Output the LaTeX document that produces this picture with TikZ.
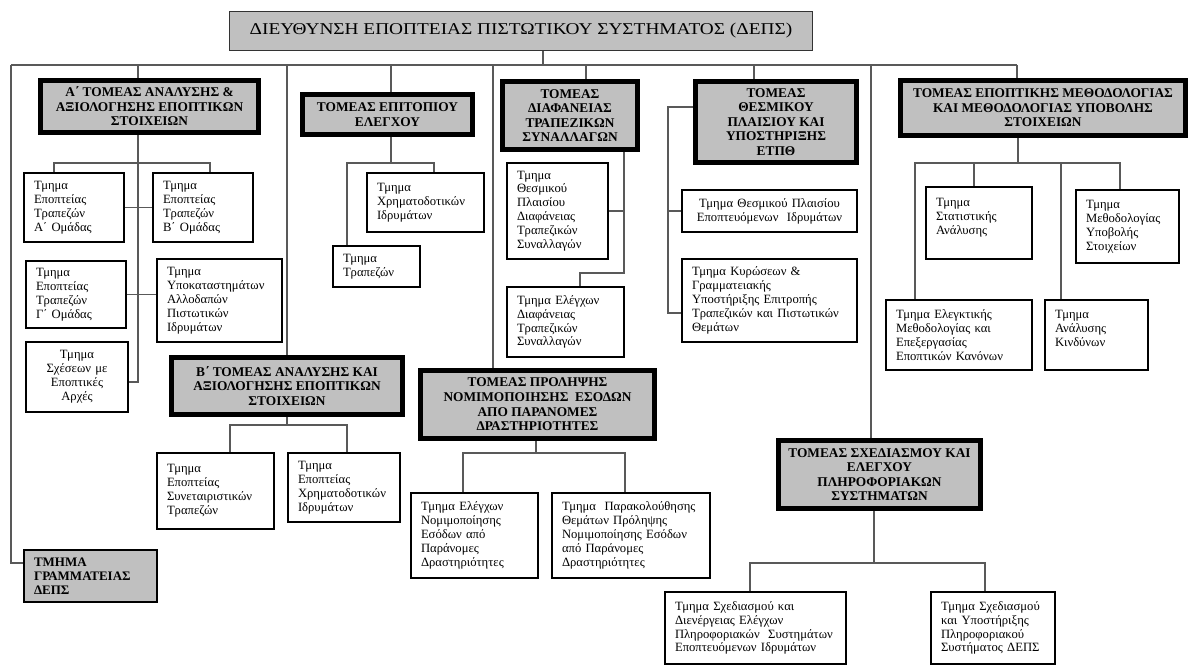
\documentclass[tikz,border=0pt]{standalone}
\usepackage{fontspec}
\setmainfont{Liberation Serif}
\newfontfamily\titlefont{Liberation Serif}[FakeStretch=1.17]
\usepackage{tikz}
\usetikzlibrary{calc}

\definecolor{boxgray}{HTML}{C0C0C0}

\tikzset{
  tomeas/.style={draw=black, line width=2.9pt, fill=boxgray, align=center, inner sep=1pt,
    font=\fontsize{7.6}{8.3}\selectfont\bfseries},
  tmhma/.style={draw=black, line width=0.7pt, fill=white, align=left, inner xsep=0.2cm, inner ysep=1pt,
    font=\fontsize{7.2}{7.9}\selectfont},
  conn/.style={draw=black!65, line width=0.8pt},
}

\begin{document}
\begin{tikzpicture}[x=0.02cm,y=-0.02cm]
\useasboundingbox (0,0) rectangle (1189,668);

\node[draw=black!80, line width=0.8pt, fill=boxgray, minimum width=11.66cm, minimum height=0.78cm,
  font=\titlefont\fontsize{9.4}{10}\selectfont] (title) at (521,31) {ΔΙΕΥΘΥΝΣΗ ΕΠΟΠΤΕΙΑΣ ΠΙΣΤΩΤΙΚΟΥ ΣΥΣΤΗΜΑΤΟΣ (ΔΕΠΣ)};

% tomeis
\node[tomeas, minimum width=4.36cm, minimum height=1.04cm] (A) at (149.5,106.5) {Α΄ ΤΟΜΕΑΣ ΑΝΑΛΥΣΗΣ \&\\ ΑΞΙΟΛΟΓΗΣΗΣ ΕΠΟΠΤΙΚΩΝ\\ ΣΤΟΙΧΕΙΩΝ};
\node[tomeas, minimum width=3.40cm, minimum height=0.80cm] (E) at (387.5,114.5) {ΤΟΜΕΑΣ ΕΠΙΤΟΠΙΟΥ\\ ΕΛΕΓΧΟΥ};
\node[tomeas, minimum width=2.70cm, minimum height=1.36cm] (D) at (570,115.5) {ΤΟΜΕΑΣ\\ ΔΙΑΦΑΝΕΙΑΣ\\ ΤΡΑΠΕΖΙΚΩΝ\\ ΣΥΝΑΛΛΑΓΩΝ};
\node[tomeas, minimum width=3.22cm, minimum height=1.62cm] (T) at (776,122) {ΤΟΜΕΑΣ\\ ΘΕΣΜΙΚΟΥ\\ ΠΛΑΙΣΙΟΥ ΚΑΙ\\ ΥΠΟΣΤΗΡΙΞΗΣ\\ ΕΤΠΘ};
\node[tomeas, minimum width=5.70cm, minimum height=1.10cm] (M) at (1043,108) {ΤΟΜΕΑΣ ΕΠΟΠΤΙΚΗΣ ΜΕΘΟΔΟΛΟΓΙΑΣ\\ ΚΑΙ ΜΕΘΟΔΟΛΟΓΙΑΣ ΥΠΟΒΟΛΗΣ\\ ΣΤΟΙΧΕΙΩΝ};
\node[tomeas, minimum width=4.62cm, minimum height=1.14cm] (B) at (287,386) {Β΄ ΤΟΜΕΑΣ ΑΝΑΛΥΣΗΣ ΚΑΙ\\ ΑΞΙΟΛΟΓΗΣΗΣ ΕΠΟΠΤΙΚΩΝ\\ ΣΤΟΙΧΕΙΩΝ};
\node[tomeas, minimum width=4.68cm, minimum height=1.36cm] (P) at (537.5,404.5) {ΤΟΜΕΑΣ ΠΡΟΛΗΨΗΣ\\ ΝΟΜΙΜΟΠΟΙΗΣΗΣ \ ΕΣΟΔΩΝ\\ ΑΠΟ ΠΑΡΑΝΟΜΕΣ\\ ΔΡΑΣΤΗΡΙΟΤΗΤΕΣ};
\node[tomeas, minimum width=4.04cm, minimum height=1.36cm] (S) at (879.5,474.5) {ΤΟΜΕΑΣ ΣΧΕΔΙΑΣΜΟΥ ΚΑΙ\\ ΕΛΕΓΧΟΥ\\ ΠΛΗΡΟΦΟΡΙΑΚΩΝ\\ ΣΥΣΤΗΜΑΤΩΝ};

% tmhmata
\node[tmhma, text width=1.60cm, minimum height=1.38cm] (a1) at (74,207.5) {Τμημα\\ Εποπτείας\\ Τραπεζών\\ Α΄ Ομάδας};
\node[tmhma, text width=1.60cm, minimum height=1.38cm] (a2) at (203,207.5) {Τμημα\\ Εποπτείας\\ Τραπεζών\\ Β΄ Ομάδας};
\node[tmhma, text width=1.60cm, minimum height=1.34cm] (a3) at (76,294.5) {Τμημα\\ Εποπτείας\\ Τραπεζών\\ Γ΄ Ομάδας};
\node[tmhma, text width=2.10cm, minimum height=1.66cm] (a4) at (219.5,300.5) {Τμημα\\ Υποκαταστημάτων\\ Αλλοδαπών\\ Πιστωτικών\\ Ιδρυμάτων};
\node[tmhma, align=center, text width=1.64cm, minimum height=1.40cm] (a5) at (77,377) {Τμημα\\ Σχέσεων με\\ Εποπτικές\\ Αρχές};
\node[tmhma, fill=boxgray, text width=2.26cm, minimum height=1.04cm, font=\fontsize{7.4}{7.9}\selectfont\bfseries] (g) at (90.5,576) {ΤΜΗΜΑ\\ ΓΡΑΜΜΑΤΕΙΑΣ\\ ΔΕΠΣ};
\node[tmhma, text width=1.94cm, minimum height=1.52cm] (b1) at (215.5,491) {Τμημα\\ Εποπτείας\\ Συνεταιριστικών\\ Τραπεζών};
\node[tmhma, text width=1.84cm, minimum height=1.38cm] (b2) at (344,487.5) {Τμημα\\ Εποπτείας\\ Χρηματοδοτικών\\ Ιδρυμάτων};
\node[tmhma, text width=1.94cm, minimum height=1.18cm] (e1) at (425.5,202.5) {Τμημα\\ Χρηματοδοτικών\\ Ιδρυμάτων};
\node[tmhma, text width=1.34cm, minimum height=0.82cm] (e2) at (376.5,266.5) {Τμημα\\ Τραπεζών};
\node[tmhma, text width=1.62cm, minimum height=1.92cm] (d1) at (557.5,211) {Τμημα\\ Θεσμικού\\ Πλαισίου\\ Διαφάνειας\\ Τραπεζικών\\ Συναλλαγών};
\node[tmhma, text width=1.94cm, minimum height=1.40cm] (d2) at (565.5,322) {Τμημα Ελέγχων\\ Διαφάνειας\\ Τραπεζικών\\ Συναλλαγών};
\node[tmhma, align=center, text width=3.10cm, minimum height=0.84cm] (t1) at (769.5,211) {Τμημα Θεσμικού Πλαισίου\\ Εποπτευόμενων \ Ιδρυμάτων};
\node[tmhma, text width=3.10cm, minimum height=1.66cm] (t2) at (769.5,300.5) {Τμημα Κυρώσεων \&\\ Γραμματειακής\\ Υποστήριξης Επιτροπής\\ Τραπεζικών και Πιστωτικών\\ Θεμάτων};
\node[tmhma, text width=1.72cm, minimum height=1.44cm] (m1) at (979,223) {Τμημα\\ Στατιστικής\\ Ανάλυσης\\ ~};
\node[tmhma, text width=1.66cm, minimum height=1.46cm] (m2) at (1127.5,226.5) {Τμημα\\ Μεθοδολογίας\\ Υποβολής\\ Στοιχείων};
\node[tmhma, text width=2.52cm, minimum height=1.40cm] (m3) at (959,335) {Τμημα Ελεγκτικής\\ Μεθοδολογίας και\\ Επεξεργασίας\\ Εποπτικών Κανόνων};
\node[tmhma, text width=1.66cm, minimum height=1.40cm] (m4) at (1096.5,335) {Τμημα\\ Ανάλυσης\\ Κινδύνων\\ ~};
\node[tmhma, text width=2.14cm, minimum height=1.70cm] (p1) at (474.5,535.5) {Τμημα Ελέγχων\\ Νομιμοποίησης\\ Εσόδων από\\ Παράνομες\\ Δραστηριότητες};
\node[tmhma, text width=2.76cm, minimum height=1.70cm] (p2) at (631,535.5) {Τμημα~~Παρακολούθησης\\ Θεμάτων Πρόληψης\\ Νομιμοποίησης Εσόδων\\ από Παράνομες\\ Δραστηριότητες};
\node[tmhma, text width=3.22cm, minimum height=1.44cm] (s1) at (755.5,628) {Τμημα Σχεδιασμού και\\ Διενέργειας Ελέγχων\\ Πληροφοριακών~~Συστημάτων\\ Εποπτευόμενων Ιδρυμάτων};
\node[tmhma, text width=2.08cm, minimum height=1.44cm] (s2) at (993,628) {Τμημα Σχεδιασμού\\ και Υποστήριξης\\ Πληροφοριακού\\ Συστήματος ΔΕΠΣ};

% main bus
\coordinate (bT) at (543,65);
\coordinate (bG) at (11,65);
\coordinate (bA) at (138,65);
\coordinate (bB) at (287,65);
\coordinate (bE) at (391,65);
\coordinate (bP) at (493,65);
\coordinate (bD) at (586,65);
\coordinate (bTh) at (754,65);
\coordinate (bS) at (871,65);
\coordinate (bM) at (1017,65);
\draw[conn] (title.south -| bT) -- (bT);
\draw[conn] (bG) -- (bM);
\draw[conn] (bA) -- (bA |- A.north);
\draw[conn] (bB) -- (bB |- B.north);
\draw[conn] (bE) -- (bE |- E.north);
\draw[conn] (bP) -- (bP |- P.north);
\draw[conn] (bD) -- (bD |- D.north);
\draw[conn] (bTh) -- (bTh |- T.north);
\draw[conn] (bS) -- (bS |- S.north);
\draw[conn] (bM) -- (bM |- M.north);
\coordinate (kG) at (11,563);
\draw[conn] (bG) -- (kG) -- (kG -| g.west);

% A
\coordinate (kA) at (138,382);
\coordinate (ka1) at (54,163);
\coordinate (ka2) at (210,163);
\draw[conn] (A.south -| kA) -- (kA) -- (kA -| a5.east);
\draw[conn] (ka1 |- a1.north) -- (ka1) -- (ka2) -- (ka2 |- a2.north);
\draw[conn] (a1.east) -- (a2.west);
\draw[conn] (a3.east) -- (a3.east -| a4.west);

% B
\coordinate (kB) at (287,425);
\coordinate (kb1) at (230,425);
\coordinate (kb2) at (347,425);
\draw[conn] (B.south) -- (kB);
\draw[conn] (kb1 |- b1.north) -- (kb1) -- (kb2) -- (kb2 |- b2.north);

% epitopiou
\coordinate (kE) at (391,163);
\coordinate (ke1) at (434,163);
\coordinate (ke2) at (347,163);
\draw[conn] (E.south -| kE) -- (kE);
\draw[conn] (ke2 |- e2.north) -- (ke2) -- (ke1) -- (ke1 |- e1.north);

% prolipsi
\coordinate (kP) at (536,453);
\coordinate (kp1) at (463,453);
\coordinate (kp2) at (625,453);
\draw[conn] (P.south -| kP) -- (kP);
\draw[conn] (kp1 |- p1.north) -- (kp1) -- (kp2) -- (kp2 |- p2.north);

% diafaneia
\coordinate (kD) at (624,273);
\coordinate (kd2) at (580,273);
\draw[conn] (D.south -| kD) -- (kD) -- (kd2) -- (kd2 |- d2.north);
\draw[conn] (d1.east) -- (d1.east -| kD);

% etpth
\coordinate (kT) at (668,107);
\coordinate (kT2) at (668,313);
\draw[conn] (T.west |- kT) -- (kT) -- (kT2) -- (kT2 -| t2.west);
\draw[conn] (t1.west -| kT) -- (t1.west);

% sxediasmos
\coordinate (kS) at (874,563);
\coordinate (ks1) at (750,563);
\coordinate (ks2) at (985,563);
\draw[conn] (S.south -| kS) -- (kS);
\draw[conn] (ks1 |- s1.north) -- (ks1) -- (ks2) -- (ks2 |- s2.north);

% methodologia
\coordinate (kM) at (1018,163);
\coordinate (km1) at (974,163);
\coordinate (km2) at (1120,163);
\coordinate (km3) at (915,163);
\coordinate (km4) at (1061,163);
\draw[conn] (M.south -| kM) -- (kM);
\draw[conn] (km3 |- m3.north) -- (km3) -- (km2) -- (km2 |- m2.north);
\draw[conn] (km1) -- (km1 |- m1.north);
\draw[conn] (km4) -- (km4 |- m4.north);

\end{tikzpicture}
\end{document}
